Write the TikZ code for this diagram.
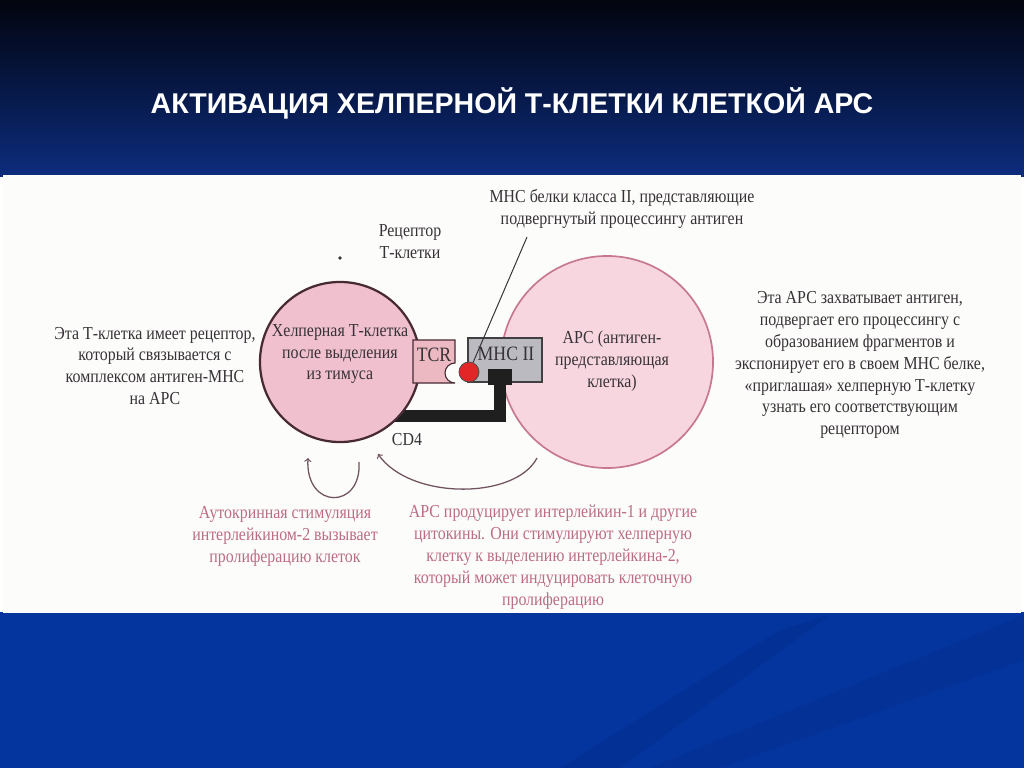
\documentclass[tikz,border=0pt]{standalone}
\usepackage{fontspec}
\setmainfont[FakeStretch=0.87]{Liberation Serif}
\newfontfamily\titlefont{Liberation Sans}
\definecolor{bgtop}{RGB}{2,4,14}
\definecolor{bgmid}{RGB}{6,24,70}
\definecolor{bgbot}{RGB}{12,44,125}
\definecolor{bgblue}{RGB}{4,52,158}
\definecolor{paper}{RGB}{252,252,250}
\definecolor{ink}{RGB}{55,50,55}
\definecolor{rose}{RGB}{188,108,132}
\definecolor{tfill}{RGB}{241,192,206}
\definecolor{tline}{RGB}{72,42,52}
\definecolor{afill}{RGB}{248,214,224}
\definecolor{aline}{RGB}{198,120,146}
\definecolor{tcrfill}{RGB}{236,184,194}
\definecolor{mhcfill}{RGB}{186,186,192}
\definecolor{agred}{RGB}{226,38,40}
\definecolor{arcline}{RGB}{112,82,96}
\newcommand{\cellfont}{\fontsize{13}{15.6}\selectfont}

\begin{document}
\begin{tikzpicture}[x=0.025cm,y=-0.025cm,
	txt/.style={font=\cellfont,text=ink,align=center,inner sep=0pt},
	note/.style={font=\cellfont,text=rose,align=center,inner sep=0pt},
	cell/.style={circle,draw,minimum size=#1,inner sep=0pt},
	ilarrow/.style={draw=arcline,line width=0.9pt,->},
	cdbar/.style={line width=0.3cm,draw=black!88}]
	\useasboundingbox (0,0) rectangle (1024,768);
	% background and white panel
	\shade[top color=bgtop,middle color=bgmid,bottom color=bgbot] (0,0) rectangle (1024,176);
	\fill[bgblue] (0,612) rectangle (1024,768);
	\fill[black,opacity=0.06] (560,768) -- (780,630) -- (830,615) -- (620,768) -- cycle;
	\fill[black,opacity=0.05] (650,768) -- (1024,615) -- (1024,660) -- (720,768) -- cycle;
	\fill[paper] (3,175) rectangle (1021,613);
	\node[font={\titlefont\bfseries\fontsize{20.3}{23}\selectfont},text=white] (title) at (512,103) {АКТИВАЦИЯ ХЕЛПЕРНОЙ Т-КЛЕТКИ КЛЕТКОЙ АРС};

	% cells
	\node[cell=5.3cm,fill=afill,draw=aline,line width=1.2pt] (apc) at (607,362) {};
	\filldraw[fill=mhcfill,draw=black!75,line width=0.8pt] (468,338) rectangle (542,382);
	\node[minimum width=0.6cm,minimum height=0.4cm,fill=black!88,inner sep=0pt] (cdsq) at (500,377) {};
	\coordinate (cdend) at (380,416);
	\draw[cdbar] (cdsq.center) |- (cdend);
	\node[cell=4cm,fill=tfill,draw=tline,line width=1.6pt] (th) at (340,362) {};
	\filldraw[fill=tcrfill,draw=tline,line width=0.8pt] (413,340) -- (455,340) -- (455,363) arc[start angle=270,end angle=90,radius=10] -- (413,383) -- cycle;
	\node[circle,fill=agred,draw=black!70,line width=0.6pt,minimum size=0.5cm,inner sep=0pt] (ag) at (469,372) {};

	\node[txt,font=\fontsize{14.5}{16}\selectfont] (tcr) at (434,355) {TCR};
	\node[txt,font=\fontsize{14.5}{16}\selectfont] (mhc) at (506,354) {MHC II};
	\node[txt] (thtext) at (340,354) {Хелперная Т-клетка\\после выделения\\из тимуса};
	\node[txt] (apctext) at (612,361) {АРС (антиген-\\представляющая\\клетка)};
	\node[txt] (cd4) at (407,440) {CD4};
	\node[txt] (rec) at (410,242) {Рецептор\\Т-клетки};
	\node[circle,fill=ink,minimum size=2.5pt,inner sep=0pt] (dot) at (340,258) {};
	\node[txt] (mhclbl) at (622,209) {МНС белки класса II, представляющие\\подвергнутый процессингу антиген};
	\coordinate (ptr) at (527,237);
	\draw[ink,line width=0.7pt] (ptr) -- (ag);

	\node[txt] (lefttext) at (155,366) {Эта Т-клетка имеет рецептор,\\который связывается с\\комплексом антиген-МНС\\на АРС};
	\node[txt] (righttext) at (860,365) {Эта АРС захватывает антиген,\\подвергает его процессингу с\\образованием фрагментов и\\экспонирует его в своем МНС белке,\\«приглашая» хелперную Т-клетку\\узнать его соответствующим\\рецептором};

	% interleukin loops
	\draw[ilarrow] (359,462) .. controls (362,510) and (305,510) .. (308,458);
	\draw[ilarrow] (537,458) .. controls (515,500) and (410,500) .. (378,454);
	\node[note] (autotext) at (285,536) {Аутокринная стимуляция\\интерлейкином-2 вызывает\\пролиферацию клеток};
	\node[note] (iltext) at (553,557) {АРС продуцирует интерлейкин-1 и другие\\цитокины. Они стимулируют хелперную\\клетку к выделению интерлейкина-2,\\который может индуцировать клеточную\\пролиферацию};
\end{tikzpicture}
\end{document}
